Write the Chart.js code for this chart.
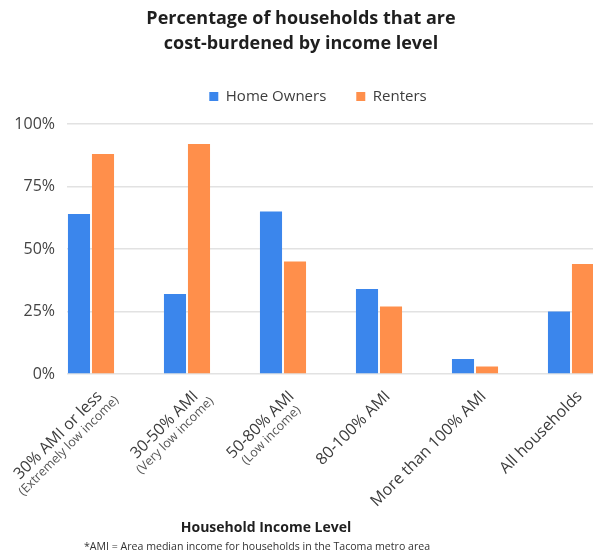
<!DOCTYPE html>
<html>
<head>
<meta charset="utf-8">
<script src="https://cdn.jsdelivr.net/npm/chart.js@4"></script>
<style>
  html, body { margin: 0; padding: 0; background: #fff; }
  body { width: 593px; height: 556px; overflow: hidden; position: relative; font-family: "Open Sans", sans-serif; }
  #wrap { position: absolute; left: 0; top: 0; width: 650px; height: 556px; }
  .txt { position: absolute; white-space: nowrap; color: #1f1f1f; transform: translateX(-50%); text-align: center; }
  #title { left: 301px; top: 5px; font-size: 18px; font-weight: 700; line-height: 25px; }
  #xtitle { left: 266px; top: 517px; font-size: 14px; font-weight: 700; line-height: 20px; }
  #note { left: 257px; top: 538px; font-size: 10.6px; line-height: 16px; color: #333; }
</style>
</head>
<body>
<div id="wrap"><canvas id="chart"></canvas></div>
<div id="title" class="txt">Percentage of households that are<br>cost-burdened by income level</div>
<div id="xtitle" class="txt">Household Income Level</div>
<div id="note" class="txt">*AMI = Area median income for households in the Tacoma metro area</div>
<script>
const categories = ['30% AMI or less', '30-50% AMI', '50-80% AMI', '80-100% AMI', 'More than 100% AMI', 'All households'];
const subLabels = ['(Extremely low income)', '(Very low income)', '(Low income)', '', '', ''];
const homeOwners = [64, 32, 65, 34, 6, 25];
const renters = [88, 92, 45, 27, 3, 44];
const yTicks = [0, 25, 50, 75, 100];
const spacer = categories.map(() => null);

// draws the rotated category labels, second line in a smaller font
const xLabels = {
  id: 'xLabels',
  afterDraw(chart) {
    const { ctx, scales: { x } } = chart;
    const slot = x.width / categories.length / 4;
    ctx.save();
    categories.forEach((cat, i) => {
      const cx = x.getPixelForValue(i) - slot + 12;
      const cy = x.top + 23;
      ctx.save();
      ctx.translate(cx, cy);
      ctx.rotate(-Math.PI / 4);
      ctx.textBaseline = 'alphabetic';
      ctx.font = '16px "Open Sans"';
      ctx.fillStyle = '#3d3d3d';
      ctx.textAlign = 'right';
      ctx.fillText(cat, 0, 0);
      const w = ctx.measureText(cat).width;
      if (subLabels[i]) {
        ctx.font = '12.5px "Open Sans"';
        ctx.fillStyle = '#555';
        ctx.textAlign = 'center';
        ctx.fillText(subLabels[i], -w / 2, 14);
      }
      ctx.restore();
    });
    ctx.restore();
  }
};

const legendGap = {
  id: 'legendGap',
  beforeInit(chart) {
    const fit = chart.legend.fit;
    chart.legend.fit = function () {
      fit.bind(chart.legend)();
      this.height += 10;
    };
  }
};

new Chart(document.getElementById('chart'), {
  type: 'bar',
  data: {
    labels: categories,
    datasets: [
      { label: 'Home Owners', data: homeOwners, backgroundColor: '#3b86ec' },
      { label: 'Renters', data: renters, backgroundColor: '#ff8f4b' },
      { label: '', data: spacer },
      { label: '', data: spacer }
    ]
  },
  options: {
    responsive: true,
    maintainAspectRatio: false,
    animation: false,
    categoryPercentage: 1,
    barPercentage: 0.92,
    layout: { padding: { top: 59, left: -7, right: 7, bottom: 0 } },
    plugins: {
      title: { display: false },
      tooltip: { enabled: false },
      legend: {
        position: 'top',
        labels: {
          filter: item => item.text !== '',
          boxWidth: 9,
          boxHeight: 9,
          padding: 30,
          color: '#3d3d3d',
          font: { family: 'Open Sans', size: 15 }
        }
      }
    },
    scales: {
      x: {
        grid: { display: false },
        border: { display: false },
        ticks: { display: false },
        afterFit: s => { s.height = 182; }
      },
      y: {
        min: 0,
        max: 100,
        afterFit: s => { s.width = 74; },
        afterBuildTicks: s => { s.ticks = yTicks.map(v => ({ value: v })); },
        grid: { color: '#e2e2e2', drawTicks: false, lineWidth: 1.5 },
        border: { display: false },
        ticks: {
          padding: 12,
          color: '#444',
          font: { family: 'Open Sans', size: 16 },
          callback: v => v + '%'
        }
      }
    }
  },
  plugins: [xLabels, legendGap]
});
</script>
</body>
</html>
